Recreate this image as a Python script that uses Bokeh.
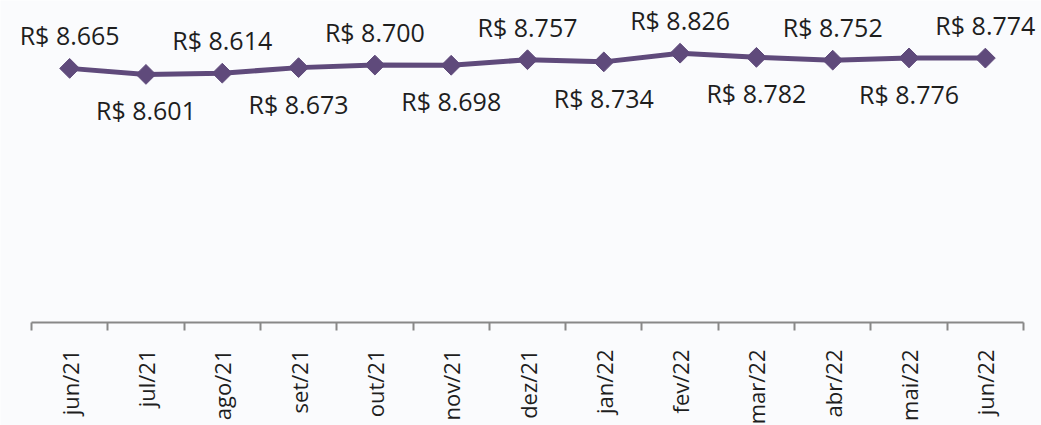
import math
from bokeh.plotting import figure
from bokeh.models import Range1d, FixedTicker, LinearAxis
from bokeh.core.properties import value
from bokeh.embed import file_html
from bokeh.resources import INLINE

# ---- data ----
months = ["jun/21", "jul/21", "ago/21", "set/21", "out/21", "nov/21", "dez/21",
          "jan/22", "fev/22", "mar/22", "abr/22", "mai/22", "jun/22"]
values = [8.665, 8.601, 8.614, 8.673, 8.700, 8.698, 8.757,
          8.734, 8.826, 8.782, 8.752, 8.776, 8.774]
value_labels = ["R$ 8.665", "R$ 8.601", "R$ 8.614", "R$ 8.673", "R$ 8.700", "R$ 8.698", "R$ 8.757",
                "R$ 8.734", "R$ 8.826", "R$ 8.782", "R$ 8.752", "R$ 8.776", "R$ 8.774"]

# ---- style ----
PURPLE = "#5f4a7b"
TEXT = "#1e1e1e"
AXIS = "#888888"
BG = "#fafbfd"
FONT = "Open Sans"

n = len(months)
xs = list(range(n))

W, H = 1041, 425
AX_L, AX_R = 31, 1023          # axis extent in pixels
px_per_cat = (AX_R - AX_L) / n
x_start = -0.5 - AX_L / px_per_cat
x_end = (n - 0.5) + (W - AX_R) / px_per_cat

# vertical mapping (frame covers the whole figure)
px_per_unit = 94.3
ref_v, ref_px = 8.7194, 62.75
y_end = ref_v + ref_px / px_per_unit
y_start = ref_v - (H - ref_px) / px_per_unit
axis_y = ref_v - (322 - ref_px) / px_per_unit

p = figure(width=W, height=H, output_backend="svg", toolbar_location=None,
           x_range=Range1d(x_start, x_end), y_range=Range1d(y_start, y_end),
           x_axis_location=None, y_axis_location=None,
           min_border_left=0, min_border_right=0, min_border_top=0, min_border_bottom=0)
p.background_fill_color = BG
p.border_fill_color = BG
p.outline_line_color = None
p.xgrid.visible = False
p.ygrid.visible = False

xaxis = LinearAxis(
    ticker=FixedTicker(ticks=xs, minor_ticks=[i - 0.5 for i in range(n + 1)]),
    major_label_overrides={i: m for i, m in enumerate(months)},
    bounds=(-0.5, n - 0.5),
    fixed_location=axis_y,
)
xaxis.axis_line_color = AXIS
xaxis.axis_line_width = 2
xaxis.major_tick_in = 0
xaxis.major_tick_out = 0
xaxis.minor_tick_in = 0
xaxis.minor_tick_out = 8
xaxis.minor_tick_line_color = AXIS
xaxis.minor_tick_line_width = 2
xaxis.major_label_orientation = math.pi / 2
xaxis.major_label_standoff = 19
xaxis.major_label_text_font = FONT
xaxis.major_label_text_font_size = "22px"
xaxis.major_label_text_color = TEXT
p.add_layout(xaxis, "below")

p.line(xs, values, line_color=PURPLE, line_width=5, line_join="round")
p.scatter(xs, values, marker="square", angle=math.pi / 4, size=14,
          fill_color=PURPLE, line_color=PURPLE)

up_x = [x for i, x in enumerate(xs) if i % 2 == 0]
up_y = [v for i, v in enumerate(values) if i % 2 == 0]
up_t = [t for i, t in enumerate(value_labels) if i % 2 == 0]
dn_x = [x for i, x in enumerate(xs) if i % 2 == 1]
dn_y = [v for i, v in enumerate(values) if i % 2 == 1]
dn_t = [t for i, t in enumerate(value_labels) if i % 2 == 1]

p.text(x=up_x, y=up_y, text=up_t, text_align="center", text_baseline="middle",
       y_offset=-33, text_font=value(FONT), text_font_size="25px", text_color=TEXT)
p.text(x=dn_x, y=dn_y, text=dn_t, text_align="center", text_baseline="middle",
       y_offset=36, text_font=value(FONT), text_font_size="25px", text_color=TEXT)

open("out.html", "w").write(file_html(p, INLINE))
